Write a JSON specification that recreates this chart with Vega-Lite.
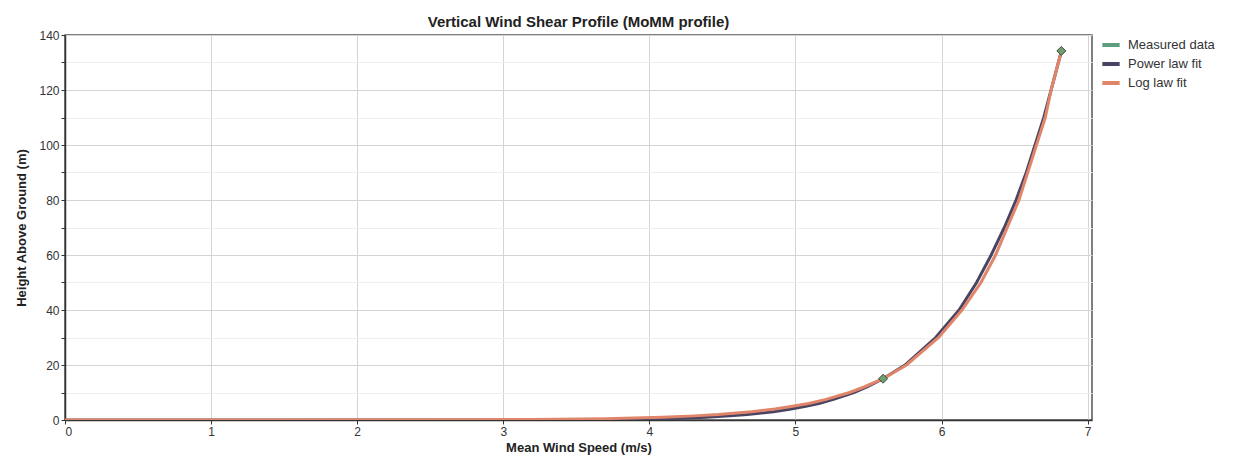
{
  "$schema": "https://vega.github.io/schema/vega-lite/v6.json",
  "autosize": {"type": "none"},
  "padding": {"left": 65, "top": 35, "right": 144, "bottom": 42},
  "width": 1027,
  "height": 385,
  "background": "white",
  "config": {
    "font": "Liberation Sans",
    "view": {"stroke": "#555", "strokeWidth": 1.5}
  },
  "title": {
    "text": "Vertical Wind Shear Profile (MoMM profile)",
    "font": "Liberation Sans",
    "fontSize": 15,
    "fontWeight": "bold",
    "color": "#222",
    "offset": -1,
    "anchor": "middle"
  },
  "datasets": {
    "fits": [
      {"series": "Power law fit", "v": 0, "h": 0},
      {"series": "Power law fit", "v": 2.36, "h": 0.001},
      {"series": "Power law fit", "v": 2.9, "h": 0.01},
      {"series": "Power law fit", "v": 3.57, "h": 0.1},
      {"series": "Power law fit", "v": 3.8, "h": 0.2},
      {"series": "Power law fit", "v": 4.12, "h": 0.5},
      {"series": "Power law fit", "v": 4.39, "h": 1},
      {"series": "Power law fit", "v": 4.55, "h": 1.5},
      {"series": "Power law fit", "v": 4.67, "h": 2},
      {"series": "Power law fit", "v": 4.85, "h": 3},
      {"series": "Power law fit", "v": 4.97, "h": 4},
      {"series": "Power law fit", "v": 5.07, "h": 5},
      {"series": "Power law fit", "v": 5.16, "h": 6},
      {"series": "Power law fit", "v": 5.26, "h": 7.5},
      {"series": "Power law fit", "v": 5.4, "h": 10},
      {"series": "Power law fit", "v": 5.49, "h": 12},
      {"series": "Power law fit", "v": 5.6, "h": 15},
      {"series": "Power law fit", "v": 5.75, "h": 20},
      {"series": "Power law fit", "v": 5.96, "h": 30},
      {"series": "Power law fit", "v": 6.12, "h": 40},
      {"series": "Power law fit", "v": 6.24, "h": 50},
      {"series": "Power law fit", "v": 6.34, "h": 60},
      {"series": "Power law fit", "v": 6.43, "h": 70},
      {"series": "Power law fit", "v": 6.51, "h": 80},
      {"series": "Power law fit", "v": 6.58, "h": 90},
      {"series": "Power law fit", "v": 6.64, "h": 100},
      {"series": "Power law fit", "v": 6.7, "h": 110},
      {"series": "Power law fit", "v": 6.75, "h": 120},
      {"series": "Power law fit", "v": 6.82, "h": 134},
      {"series": "Log law fit", "v": 0, "h": 0.00065},
      {"series": "Log law fit", "v": 1.52, "h": 0.01},
      {"series": "Log law fit", "v": 2.8, "h": 0.1},
      {"series": "Log law fit", "v": 3.19, "h": 0.2},
      {"series": "Log law fit", "v": 3.7, "h": 0.5},
      {"series": "Log law fit", "v": 4.09, "h": 1},
      {"series": "Log law fit", "v": 4.31, "h": 1.5},
      {"series": "Log law fit", "v": 4.47, "h": 2},
      {"series": "Log law fit", "v": 4.7, "h": 3},
      {"series": "Log law fit", "v": 4.86, "h": 4},
      {"series": "Log law fit", "v": 4.98, "h": 5},
      {"series": "Log law fit", "v": 5.09, "h": 6},
      {"series": "Log law fit", "v": 5.21, "h": 7.5},
      {"series": "Log law fit", "v": 5.37, "h": 10},
      {"series": "Log law fit", "v": 5.47, "h": 12},
      {"series": "Log law fit", "v": 5.6, "h": 15},
      {"series": "Log law fit", "v": 5.76, "h": 20},
      {"series": "Log law fit", "v": 5.98, "h": 30},
      {"series": "Log law fit", "v": 6.14, "h": 40},
      {"series": "Log law fit", "v": 6.27, "h": 50},
      {"series": "Log law fit", "v": 6.37, "h": 60},
      {"series": "Log law fit", "v": 6.45, "h": 70},
      {"series": "Log law fit", "v": 6.53, "h": 80},
      {"series": "Log law fit", "v": 6.59, "h": 90},
      {"series": "Log law fit", "v": 6.65, "h": 100},
      {"series": "Log law fit", "v": 6.71, "h": 110},
      {"series": "Log law fit", "v": 6.75, "h": 120},
      {"series": "Log law fit", "v": 6.82, "h": 134}
    ],
    "measured": [
      {"series": "Measured data", "v": 5.6, "h": 15},
      {"series": "Measured data", "v": 6.82, "h": 134.2}
    ]
  },
  "encoding": {
    "x": {
      "field": "v",
      "type": "quantitative",
      "scale": {"domain": [0, 7.03], "nice": false, "zero": false},
      "axis": {
        "title": "Mean Wind Speed (m/s)",
        "titleFontSize": 13,
        "titleFontWeight": "bold",
        "titleColor": "#222",
        "titlePadding": 4,
        "values": [0, 0.5, 1, 1.5, 2, 2.5, 3, 3.5, 4, 4.5, 5, 5.5, 6, 6.5, 7],
        "format": "d",
        "labelExpr": "datum.value % 1 === 0 ? format(datum.value, 'd') : ''",
        "labelFontSize": 12,
        "labelColor": "#333",
        "labelPadding": 2,
        "domainColor": "#333",
        "domainWidth": 1.5,
        "tickColor": "#333",
        "tickSize": 4,
        "grid": true,
        "gridColor": {"condition": {"test": "datum.value % 1 === 0", "value": "#d4d4d4"}, "value": "#eeeeee"},
        "gridWidth": 1
      }
    },
    "y": {
      "field": "h",
      "type": "quantitative",
      "scale": {"domain": [0, 140], "nice": false},
      "axis": {
        "title": "Height Above Ground (m)",
        "titleFontSize": 13,
        "titleFontWeight": "bold",
        "titleColor": "#222",
        "titlePadding": 10,
        "values": [0, 10, 20, 30, 40, 50, 60, 70, 80, 90, 100, 110, 120, 130, 140],
        "labelExpr": "datum.value % 20 === 0 ? datum.label : ''",
        "labelFontSize": 12,
        "labelColor": "#333",
        "labelPadding": 2,
        "domainColor": "#333",
        "domainWidth": 1.5,
        "tickColor": "#333",
        "tickSize": 4,
        "grid": true,
        "gridColor": {"condition": {"test": "datum.value % 20 === 0", "value": "#d4d4d4"}, "value": "#eeeeee"},
        "gridWidth": 1
      }
    },
    "color": {
      "field": "series",
      "type": "nominal",
      "scale": {
        "domain": ["Measured data", "Power law fit", "Log law fit"],
        "range": ["#5e9e7c", "#4a4463", "#e0856a"]
      },
      "legend": {
        "title": null,
        "orient": "none",
        "legendX": 1035,
        "legendY": -1,
        "symbolType": "stroke",
        "symbolStrokeWidth": 4,
        "symbolSize": 300,
        "labelFontSize": 13,
        "labelColor": "#333",
        "labelOffset": 6,
        "rowPadding": 0,
        "symbolOffset": 0
      }
    }
  },
  "layer": [
    {
      "data": {"name": "fits"},
      "mark": {"type": "line", "strokeWidth": 3, "clip": true},
      "encoding": {"order": {"field": "h", "type": "quantitative"}}
    },
    {
      "data": {"name": "measured"},
      "mark": {"type": "point", "shape": "diamond", "filled": true, "size": 80, "stroke": "#3a4a3a", "strokeWidth": 1, "opacity": 1},
      "encoding": {"fill": {"value": "#6f9e6f"}}
    }
  ]
}
